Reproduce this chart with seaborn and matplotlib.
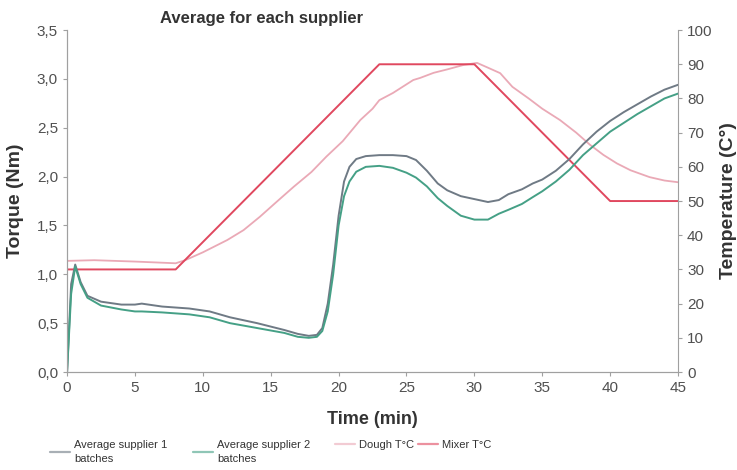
import matplotlib
matplotlib.use("Agg")
import matplotlib.pyplot as plt
import seaborn as sns
import pandas as pd
from matplotlib.lines import Line2D
from matplotlib.ticker import FuncFormatter

# ---- data ----
t_s1 = [0, 0.3, 0.6, 1.0, 1.5, 2.5, 4, 5, 5.5, 7, 9, 10.5, 12, 14, 16, 17, 17.8, 18.4, 18.8, 19.2,
        19.6, 20.0, 20.4, 20.8, 21.3, 22, 23, 24, 25, 25.7, 26.5, 27.3, 28, 29, 30, 31, 31.8, 32.5,
        33.5, 34.3, 35, 36, 37, 38, 39, 40, 41, 42, 43, 44, 45]
supplier1 = [0, 0.9, 1.1, 0.92, 0.78, 0.72, 0.69, 0.69, 0.7, 0.67, 0.65, 0.62, 0.56, 0.5, 0.43, 0.39,
             0.37, 0.38, 0.45, 0.7, 1.1, 1.6, 1.95, 2.1, 2.18, 2.21, 2.22, 2.22, 2.21, 2.17, 2.06, 1.93,
             1.86, 1.8, 1.77, 1.74, 1.76, 1.82, 1.87, 1.93, 1.97, 2.06, 2.18, 2.33, 2.46, 2.57, 2.66,
             2.74, 2.82, 2.89, 2.94]
supplier2 = [0, 0.8, 1.08, 0.9, 0.76, 0.68, 0.64, 0.62, 0.62, 0.61, 0.59, 0.56, 0.5, 0.45, 0.4, 0.36,
             0.35, 0.36, 0.42, 0.62, 1.0, 1.5, 1.8, 1.95, 2.05, 2.1, 2.11, 2.09, 2.04, 1.99, 1.9, 1.78,
             1.7, 1.6, 1.56, 1.56, 1.62, 1.66, 1.72, 1.79, 1.85, 1.95, 2.07, 2.22, 2.34, 2.46, 2.55,
             2.64, 2.72, 2.8, 2.85]

t_dough = [0, 2, 5, 8, 8.7, 10, 11.8, 13, 14.2, 15.5, 16.7, 18, 19.1, 20.3, 21.6, 22.5, 23, 24, 25.5,
           26, 27, 28, 29.2, 30.2, 31, 31.9, 32.8, 34, 35, 36.3, 37.5, 38.5, 39.5, 40.5, 41.5, 42.9,
           44, 45]
dough_T = [32.5, 32.7, 32.3, 31.8, 32.7, 35, 38.6, 41.5, 45.4, 50, 54.2, 58.5, 63, 67.5, 73.7, 77,
           79.5, 81.6, 85.4, 86, 87.5, 88.5, 89.8, 90.4, 89, 87.4, 83.4, 80, 77, 73.7, 70, 66.5, 63.5,
           61, 59, 57, 56, 55.5]

t_mixer = [0, 8, 23, 30, 40, 45]
mixer_T = [30, 30, 90, 90, 50, 50]

labels = ["Average supplier 1\nbatches", "Average supplier 2\nbatches", "Dough T°C", "Mixer T°C"]
colors = ["#6f7a85", "#45a086", "#eaa9b6", "#e0485f"]

# ---- style ----
sns.set_style("ticks")
plt.rcParams["font.family"] = ["Liberation Sans", "DejaVu Sans"]

fig = plt.figure(figsize=(7.37, 4.70), dpi=100)
ax = fig.add_axes([0.091, 0.2085, 0.829, 0.7275])
ax2 = ax.twinx()

df1 = pd.DataFrame({"t": t_s1, "v": supplier1})
df2 = pd.DataFrame({"t": t_s1, "v": supplier2})
dfd = pd.DataFrame({"t": t_dough, "v": dough_T})
dfm = pd.DataFrame({"t": t_mixer, "v": mixer_T})

sns.lineplot(data=dfd, x="t", y="v", ax=ax2, color=colors[2], lw=1.3, sort=False)
sns.lineplot(data=dfm, x="t", y="v", ax=ax2, color=colors[3], lw=1.4, sort=False)
sns.lineplot(data=df1, x="t", y="v", ax=ax, color=colors[0], lw=1.4, sort=False)
sns.lineplot(data=df2, x="t", y="v", ax=ax, color=colors[1], lw=1.4, sort=False)

ax.set_zorder(ax2.get_zorder() + 1)
ax.patch.set_visible(False)

ax.set_xlim(0, 45)
ax.set_ylim(0, 3.5)
ax2.set_ylim(0, 100)
ax.set_xticks(range(0, 46, 5))
ax.set_yticks([0, 0.5, 1, 1.5, 2, 2.5, 3, 3.5])
ax2.set_yticks(range(0, 101, 10))
ax.yaxis.set_major_formatter(FuncFormatter(lambda v, p: f"{v:.1f}".replace(".", ",")))

spine_c = "#a0a0a0"
for a in (ax, ax2):
    for s in a.spines.values():
        s.set_color(spine_c)
    a.spines["top"].set_visible(False)
    a.tick_params(colors="#505050", labelsize=11, length=3, width=0.8)
    a.tick_params(axis="both", color=spine_c)
ax.spines["right"].set_visible(False)

ax.set_xlabel("Time (min)", fontsize=13, fontweight="bold", color="#333333")
ax.set_ylabel("Torque (Nm)", fontsize=14, fontweight="bold", color="#333333")
ax2.set_ylabel("Temperature (C°)", fontsize=14, fontweight="bold", color="#333333")
ax.xaxis.set_label_coords(0.5, -0.115)
ax.yaxis.set_label_coords(-0.070, 0.5)
ax2.yaxis.set_label_coords(1.069, 0.5)

fig.text(262 / 737, 1 - 18 / 470, "Average for each supplier", ha="center", va="center",
         fontsize=12, fontweight="bold", color="#333333")

handles = [Line2D([0], [0], color=c, lw=1.6) for c in colors]
legend_x = [50, 193, 335, 418]
for h, lab, lx in zip(handles, labels, legend_x):
    leg = fig.legend([h], [lab], loc="upper left", bbox_to_anchor=(lx / 737, 1 - 440 / 470),
                     frameon=False, prop={"size": 8}, handlelength=1.8,
                     handletextpad=0.35, borderpad=0, borderaxespad=0, labelcolor="#333333")
    for txt in leg.get_texts():
        txt.set_linespacing(1.55)
    for line in leg.get_lines():
        line.set_alpha(0.6)

fig.savefig("out.png", dpi=100)
